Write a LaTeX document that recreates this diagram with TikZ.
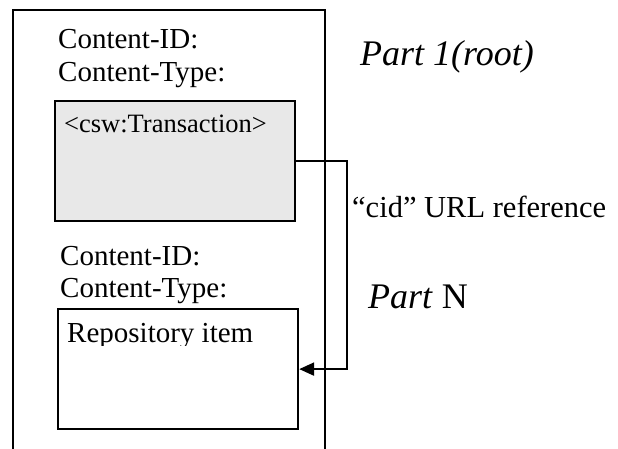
\documentclass[tikz,border=0pt]{standalone}
\usepackage{fontspec}
\setmainfont{Liberation Serif}
\usetikzlibrary{arrows.meta}
\begin{document}
\begin{tikzpicture}[x=1pt,y=-1pt,
  lbl/.style={anchor=base west,inner sep=0pt,font=\fontsize{29}{33}\selectfont},
  small/.style={anchor=base west,inner sep=0pt,font=\fontsize{26.5}{30}\selectfont},
  partlbl/.style={anchor=base west,inner sep=0pt,font=\fontsize{36}{40}\selectfont},
  boxstyle/.style={draw,line width=2.2pt,anchor=north west,inner sep=0pt,minimum width=240pt,minimum height=120pt},
  conn/.style={line width=2.2pt,-{Triangle[length=15pt,width=13pt]}}]
\useasboundingbox (0,0) rectangle (618,449);
% outer frame (open bottom)
\draw[line width=2.2pt] (13,449) -- (13,10) -- (325,10) -- (325,449);
% boxes
\node[boxstyle,fill=gray!18] (trans) at (54,100) {};
\node[boxstyle,fill=white] (repo) at (57,308) {};
% texts part 1
\node[lbl] (cid1) at (58,49) {Content-ID:};
\node[lbl] (ctype1) at (58,82) {Content-Type:};
\node[small] (transtxt) at (64,133) {<csw:Transaction>};
% texts part N
\node[lbl] (cid2) at (60,265) {Content-ID:};
\node[lbl] (ctype2) at (60,297) {Content-Type:};
\begin{scope}
\clip (57,308) rectangle (297,345);
\node[lbl] (repotxt) at (67,342) {Repository item};
\end{scope}
% right labels
\node[partlbl] (part1) at (360,66) {\itshape Part 1(root)};
\node[lbl,font=\fontsize{30.5}{34}\selectfont] (url) at (352,218) {“cid” URL reference};
\node[partlbl] (partn) at (368,308) {\itshape Part\/\upshape{} N};
% connector
\draw[conn] (trans.east) -- ++(51,0) |- (repo.east);
\end{tikzpicture}
\end{document}
